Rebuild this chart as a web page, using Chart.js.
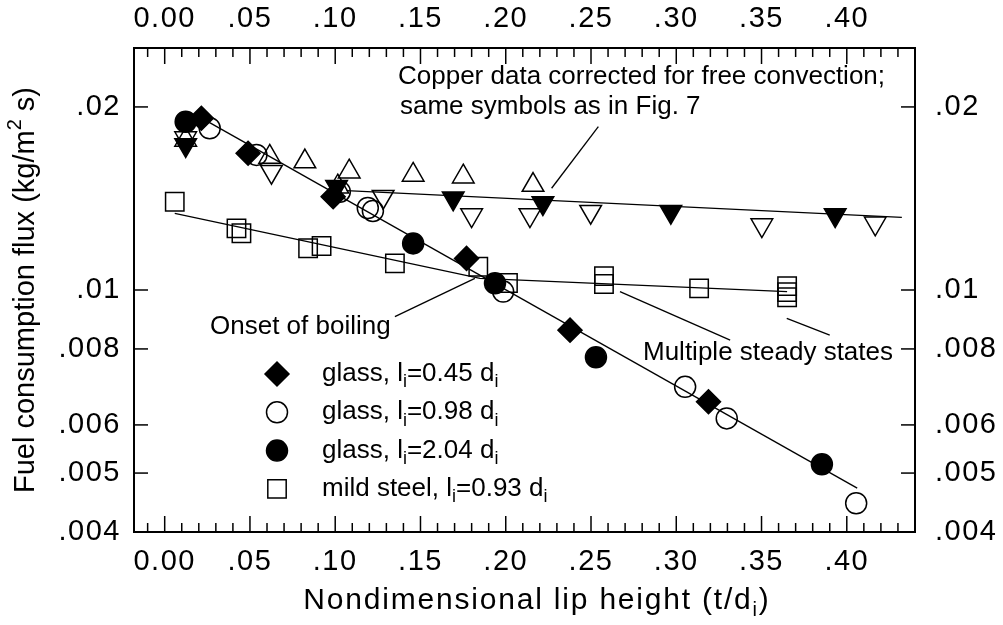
<!DOCTYPE html>
<html>
<head>
<meta charset="utf-8">
<script src="https://cdn.jsdelivr.net/npm/chart.js@4.4.1/dist/chart.umd.min.js"></script>
<style>
  html, body { margin: 0; padding: 0; background: #fff; }
  #wrap { width: 1003px; height: 625px; }
</style>
</head>
<body>
<div id="wrap"><canvas id="chart"></canvas></div>
<script>
// axis ticks
const xTicks = [0, 0.05, 0.10, 0.15, 0.20, 0.25, 0.30, 0.35, 0.40];
const yTicks = [0.004, 0.005, 0.006, 0.008, 0.01, 0.02];

// glass, li = 0.45 di (filled diamonds)
const glass045X = [0.0215, 0.0489, 0.0988, 0.177, 0.2377, 0.3189];
const glass045Y = [0.01916, 0.01678, 0.01424, 0.01127, 0.00859, 0.00655];

// glass, li = 0.98 di (open circles)
const glass098X = [0.0264, 0.0538, 0.1027, 0.1191, 0.1221, 0.1985, 0.3052, 0.3296, 0.4055];
const glass098Y = [0.01845, 0.01668, 0.01451, 0.01364, 0.01349, 0.00994, 0.00693, 0.00615, 0.00446];

// glass, li = 2.04 di (filled circles)
const glass204X = [0.0123, 0.1457, 0.1937, 0.2529, 0.3854];
const glass204Y = [0.01891, 0.01193, 0.01026, 0.00775, 0.00517];

// mild steel, li = 0.93 di (open squares)
const steelX = [0.0059, 0.0421, 0.045, 0.0841, 0.092, 0.135, 0.1839, 0.2013, 0.2576, 0.2576, 0.3134, 0.365, 0.365, 0.365];
const steelY = [0.01397, 0.01263, 0.0124, 0.01171, 0.01181, 0.01106, 0.01092, 0.01027, 0.01054, 0.01023, 0.01006, 0.01015, 0.00992, 0.00973];

// copper data (Fig. 7 symbols)
const copperUpX = [0.0123, 0.0616, 0.0822, 0.1015, 0.1082, 0.1457, 0.1751, 0.216];
const copperUpY = [0.01765, 0.01655, 0.01626, 0.01479, 0.01565, 0.01546, 0.01536, 0.01488];
const copperDownX = [0.0123, 0.0626, 0.1281, 0.18, 0.2142, 0.2498, 0.3502, 0.4167];
const copperDownY = [0.01778, 0.01565, 0.01424, 0.01328, 0.01328, 0.01345, 0.01279, 0.01287];
const copperFilledX = [0.0123, 0.1008, 0.1692, 0.2218, 0.2968, 0.3932];
const copperFilledY = [0.01732, 0.01479, 0.01415, 0.0139, 0.01345, 0.01328];

// fitted lines
const glassFitX = [0.0235, 0.4061];
const glassFitY = [0.01904, 0.004724];
const copperFitX = [0.1066, 0.4323];
const copperFitY = [0.01457, 0.01317];
const steelFitX = [0.0059, 0.1849, 0.365];
const steelFitY = [0.01337, 0.01045, 0.00994];

// leader lines for the notes, in data units
const leaderX = [[0.2543, 0.2269], [0.135, 0.1819], [0.267, 0.3316], [0.3648, 0.39]];
const leaderY = [[0.01856, 0.0147], [0.00904, 0.01045], [0.00994, 0.00827], [0.00898, 0.00843]];

const pts = (xs, ys) => xs.map((x, i) => ({ x: x, y: ys[i] }));
const FONT = '"Liberation Sans", Arial, Helvetica, sans-serif';

function markers(label, xs, ys, style, filled, radius, rotation) {
  return {
    label: label,
    data: pts(xs, ys),
    showLine: false,
    pointStyle: style,
    pointRadius: radius,
    pointRotation: rotation || 0,
    pointBorderWidth: 1.5,
    pointBorderColor: '#000',
    pointBackgroundColor: filled ? '#000' : 'rgba(0,0,0,0)'
  };
}

function fitLine(label, xs, ys) {
  return {
    label: label,
    data: pts(xs, ys),
    showLine: true,
    borderColor: '#000',
    borderWidth: 1.3,
    pointRadius: 0,
    tension: 0
  };
}

function richWidth(ctx, parts, size) {
  let w = 0;
  parts.forEach(p => {
    const small = typeof p !== 'string';
    ctx.font = (small ? Math.round(size * 0.68) : size) + 'px ' + FONT;
    w += ctx.measureText(small ? p.t : p).width;
  });
  return w;
}

function rich(ctx, parts, x, y, size) {
  let cx = x;
  parts.forEach(p => {
    const small = typeof p !== 'string';
    const t = small ? p.t : p;
    ctx.font = (small ? Math.round(size * 0.68) : size) + 'px ' + FONT;
    let dy = 0;
    if (small) dy = p.k === 'sub' ? size * 0.32 : -size * 0.36;
    ctx.fillText(t, cx, y + dy);
    cx += ctx.measureText(t).width;
  });
}

const sub = t => ({ t: t, k: 'sub' });
const sup = t => ({ t: t, k: 'sup' });

const legendItems = [
  { style: 'rectRot', filled: true, r: 12, parts: ['glass, l', sub('i'), '=0.45 d', sub('i')] },
  { style: 'circle', filled: false, r: 10.5, parts: ['glass, l', sub('i'), '=0.98 d', sub('i')] },
  { style: 'circle', filled: true, r: 10.5, parts: ['glass, l', sub('i'), '=2.04 d', sub('i')] },
  { style: 'rect', filled: false, r: 13, parts: ['mild steel, l', sub('i'), '=0.93 d', sub('i')] }
];

const overlay = {
  id: 'overlay',
  beforeDraw(chart) {
    // the tick labels in the figure are set a little wide
    chart.ctx.letterSpacing = '1.5px';
  },
  afterDatasetsDraw(chart) {
    const ctx = chart.ctx;
    const a = chart.chartArea;
    const xs = chart.scales.x, ys = chart.scales.y;
    const seg = (x1, y1, x2, y2) => { ctx.beginPath(); ctx.moveTo(x1, y1); ctx.lineTo(x2, y2); ctx.stroke(); };
    ctx.save();
    ctx.letterSpacing = '0px';
    ctx.strokeStyle = '#000';
    ctx.fillStyle = '#000';

    // frame
    ctx.lineWidth = 2;
    ctx.strokeRect(a.left, a.top, a.right - a.left, a.bottom - a.top);

    // inward ticks
    ctx.lineWidth = 1.5;
    for (let k = -1; k <= 43; k++) {
      const px = xs.getPixelForValue(k / 100);
      const len = k % 5 === 0 ? 16 : 9;
      seg(px, a.bottom, px, a.bottom - len);
      seg(px, a.top, px, a.top + len);
    }
    yTicks.forEach(v => {
      const py = ys.getPixelForValue(v);
      seg(a.left, py, a.left + 14, py);
      seg(a.right, py, a.right - 14, py);
    });

    // leader lines
    ctx.lineWidth = 1.3;
    leaderX.forEach((lx, i) => {
      seg(xs.getPixelForValue(lx[0]), ys.getPixelForValue(leaderY[i][0]),
          xs.getPixelForValue(lx[1]), ys.getPixelForValue(leaderY[i][1]));
    });

    // notes
    ctx.textBaseline = 'middle';
    ctx.textAlign = 'left';
    rich(ctx, ['Copper data corrected for free convection;'], 398, 77, 26);
    rich(ctx, ['same symbols as in Fig. 7'], 400, 107, 26);
    rich(ctx, ['Onset of boiling'], 210, 327, 26);
    rich(ctx, ['Multiple steady states'], 643, 353, 26);

    // legend
    legendItems.forEach((it, i) => {
      const ly = 374 + i * 38.3;
      ctx.fillStyle = it.filled ? '#000' : 'rgba(0,0,0,0)';
      ctx.strokeStyle = '#000';
      ctx.lineWidth = 1.5;
      Chart.helpers.drawPoint(ctx, { pointStyle: it.style, radius: it.r, rotation: 0, borderWidth: 1.5 }, 277, ly);
      ctx.fillStyle = '#000';
      rich(ctx, it.parts, 322, ly, 26);
    });

    // axis titles
    const yt = ['Fuel consumption flux (kg/m', sup('2'), ' s)'];
    ctx.save();
    ctx.translate(26, 290);
    ctx.rotate(-Math.PI / 2);
    rich(ctx, yt, -richWidth(ctx, yt, 29) / 2, 0, 29);
    ctx.restore();
    ctx.letterSpacing = '1.8px';
    const xt = ['Nondimensional lip height (t/d', sub('i'), ')'];
    rich(ctx, xt, 537 - richWidth(ctx, xt, 30) / 2, 601, 30);
    ctx.restore();
  }
};

const tickFont = { family: FONT, size: 29 };
const xLabel = v => v === 0 ? '0.00' : v.toFixed(2).replace(/^0/, '');
const yLabel = v => String(v).replace(/^0/, '');

function xAxis(position, h, pad) {
  return {
    type: 'linear', position: position, min: -0.018, max: 0.44,
    afterBuildTicks: s => { s.ticks = xTicks.map(v => ({ value: v })); },
    afterFit: s => { s.height = h; },
    grid: { display: false, drawTicks: false },
    border: { display: false },
    ticks: { font: tickFont, color: '#000', padding: pad, maxRotation: 0, autoSkip: false, callback: xLabel }
  };
}

function yAxis(position, w, pad) {
  return {
    type: 'logarithmic', position: position, min: 0.004, max: 0.025,
    afterBuildTicks: s => { s.ticks = yTicks.map(v => ({ value: v })); },
    afterFit: s => { s.width = w; },
    grid: { display: false, drawTicks: false },
    border: { display: false },
    ticks: { font: tickFont, color: '#000', padding: pad, autoSkip: false, callback: yLabel }
  };
}

new Chart(document.getElementById('chart'), {
  type: 'scatter',
  data: {
    datasets: [
      fitLine('glass fit', glassFitX, glassFitY),
      fitLine('copper fit', copperFitX, copperFitY),
      fitLine('steel fit', steelFitX, steelFitY),
      markers('copper up', copperUpX, copperUpY, 'triangle', false, 12.5, 0),
      markers('copper down', copperDownX, copperDownY, 'triangle', false, 12.5, 180),
      markers('copper filled', copperFilledX, copperFilledY, 'triangle', true, 12.5, 180),
      markers('mild steel, li=0.93 di', steelX, steelY, 'rect', false, 13),
      markers('glass, li=0.98 di', glass098X, glass098Y, 'circle', false, 10.5),
      markers('glass, li=2.04 di', glass204X, glass204Y, 'circle', true, 10.5),
      markers('glass, li=0.45 di', glass045X, glass045Y, 'rectRot', true, 12)
    ]
  },
  options: {
    responsive: true,
    maintainAspectRatio: false,
    animation: false,
    devicePixelRatio: 1,
    layout: { padding: 0 },
    plugins: { legend: { display: false }, tooltip: { enabled: false } },
    scales: {
      x: xAxis('bottom', 93, 13),
      x2: xAxis('top', 48, 12),
      y: yAxis('left', 134, 13),
      y2: yAxis('right', 88, 20)
    }
  },
  plugins: [overlay]
});
</script>
</body>
</html>
